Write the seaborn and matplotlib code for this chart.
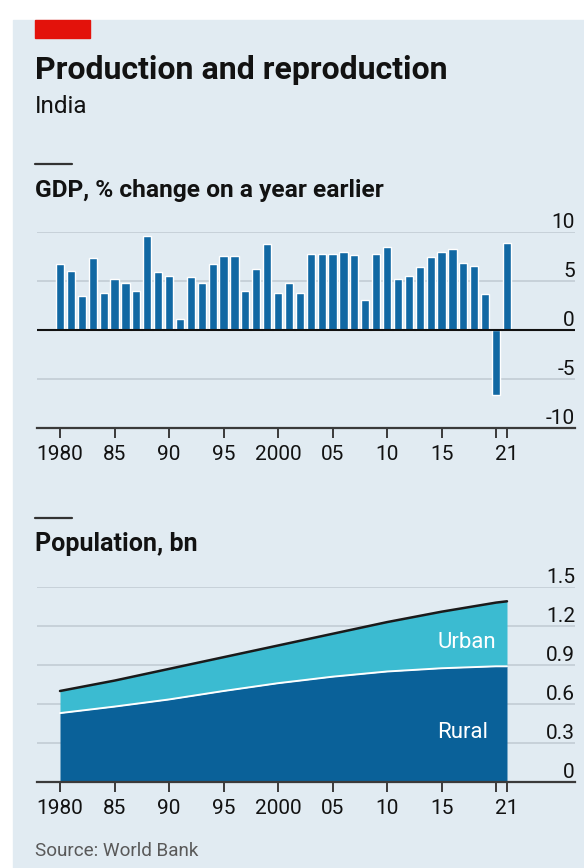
import pandas as pd
import seaborn as sns
import matplotlib.pyplot as plt
from matplotlib import font_manager
from matplotlib.patches import Rectangle
from matplotlib.lines import Line2D

# GDP growth, % change on a year earlier
years = list(range(1980, 2022))
gdp_growth = [6.7, 6.0, 3.5, 7.3, 3.8, 5.2, 4.8, 4.0, 9.6, 5.9,
              5.5, 1.1, 5.4, 4.8, 6.7, 7.6, 7.6, 4.0, 6.2, 8.8,
              3.8, 4.8, 3.8, 7.8, 7.8, 7.8, 8.0, 7.7, 3.1, 7.8,
              8.5, 5.2, 5.5, 6.4, 7.4, 8.0, 8.3, 6.8, 6.5, 3.7,
              -6.6, 8.9]

# Population, bn
pop_years = [1980, 1985, 1990, 1995, 2000, 2005, 2010, 2015, 2020, 2021]
rural_bn = [0.53, 0.58, 0.635, 0.70, 0.76, 0.81, 0.85, 0.875, 0.89, 0.89]
urban_bn = [0.17, 0.20, 0.235, 0.26, 0.29, 0.33, 0.38, 0.435, 0.49, 0.50]

tick_years = [1980, 1985, 1990, 1995, 2000, 2005, 2010, 2015, 2020, 2021]
tick_labels = ["1980", "85", "90", "95", "2000", "05", "10", "15", "", "21"]
gdp_ticks = [10, 5, 0, -5, -10]
gdp_tick_labels = ["10", "5", "0", "-5", "-10"]
pop_ticks = [0, 0.3, 0.6, 0.9, 1.2, 1.5]
pop_tick_labels = ["0", "0.3", "0.6", "0.9", "1.2", "1.5"]

BG = "#e1ebf2"
BAR = "#1168a3"
RURAL = "#0a6199"
URBAN = "#3bbbd1"
GRID = "#c2ccd4"
INK = "#121212"

sns.set_theme(style="white")
installed = {f.name for f in font_manager.fontManager.ttflist}
main_font = "Liberation Sans Narrow" if "Liberation Sans Narrow" in installed else "Roboto"
plt.rcParams["font.family"] = [main_font, "DejaVu Sans"]

W, H = 584, 868
fig = plt.figure(figsize=(W / 100, H / 100), dpi=100, facecolor="white")


def fx(x):
    return x / W


def fy(y):
    return 1 - y / H


fig.patches.append(Rectangle((fx(13), 0), 1 - fx(13), fy(20), transform=fig.transFigure,
                             color=BG, zorder=-10))
fig.patches.append(Rectangle((fx(35), fy(38)), fx(90) - fx(35), fy(20) - fy(38),
                             transform=fig.transFigure, color="#e3120b", zorder=-5))

renderer = fig.canvas.get_renderer()


def fit_text(x, y, s, width_px, **kw):
    t = fig.text(fx(x), fy(y), s, va="baseline", ha="left", **kw)
    w = t.get_window_extent(renderer).width
    t.set_fontsize(t.get_fontsize() * width_px / w)
    return t


fit_text(35, 79, "Production and reproduction", 412, fontsize=22, fontweight="bold", color=INK)
fit_text(35, 113, "India", 53, fontsize=17, color=INK)
fit_text(35, 197, "GDP, % change on a year earlier", 349, fontsize=16, fontweight="bold", color=INK)
fit_text(35, 551, "Population, bn", 162, fontsize=16, fontweight="bold", color=INK)
fit_text(35, 856, "Source: World Bank", 165, fontsize=14, color="#595959")
for ly in (164, 518):
    fig.add_artist(Line2D([fx(35), fx(72)], [fy(ly), fy(ly)], transform=fig.transFigure,
                          color="#333333", lw=1.6))

xlim = (1980 - 23 / 10.9, 2021 + 68 / 10.9)


def style_axis(ax, ticks, labels, ymin):
    ax.set_facecolor("none")
    for side in ("left", "right", "top"):
        ax.spines[side].set_visible(False)
    ax.spines["bottom"].set_color("#3a3a3a")
    ax.spines["bottom"].set_linewidth(1.6)
    ax.set_xlim(*xlim)
    ax.set_xticks(tick_years)
    ax.set_xticklabels(tick_labels)
    ax.tick_params(axis="x", direction="out", length=7, width=1.4, color="#3a3a3a",
                   pad=5, labelsize=15, labelcolor=INK, bottom=True)
    ax.set_yticks([])
    ax.set_xlabel("")
    ax.set_ylabel("")
    for v, lab in zip(ticks, labels):
        if v != ymin:
            ax.axhline(v, color=GRID, lw=1.2, zorder=0)
        ax.text(1.0, v, lab, transform=ax.get_yaxis_transform(), ha="right", va="bottom",
                fontsize=15, color=INK)


# GDP bar chart
ax1 = fig.add_axes([fx(37), fy(428), fx(575) - fx(37), fy(232) - fy(428)])
gdp = pd.DataFrame({"year": years, "growth": gdp_growth})
sns.barplot(data=gdp, x="year", y="growth", native_scale=True, color=BAR, saturation=1,
            width=0.75, errorbar=None, ax=ax1, zorder=2)
ax1.set_ylim(-10, 10)
style_axis(ax1, gdp_ticks, gdp_tick_labels, -10)
ax1.axhline(0, color="#111111", lw=1.5, zorder=3)

# Population area chart
ax2 = fig.add_axes([fx(37), fy(782), fx(575) - fx(37), fy(587) - fy(782)])
pop = pd.DataFrame({"year": pop_years, "rural": rural_bn, "urban": urban_bn})
pop["total"] = pop["rural"] + pop["urban"]
ax2.fill_between(pop["year"], 0, pop["rural"], color=RURAL, lw=0, zorder=2)
ax2.fill_between(pop["year"], pop["rural"], pop["total"], color=URBAN, lw=0, zorder=2)
sns.lineplot(data=pop, x="year", y="rural", color="white", lw=1.4, ax=ax2, zorder=3)
sns.lineplot(data=pop, x="year", y="total", color="#1a1a1a", lw=1.8, ax=ax2, zorder=3)
ax2.set_ylim(0, 1.5)
style_axis(ax2, pop_ticks, pop_tick_labels, 0)
ax2.text(2014.6, 1.07, "Urban", color="white", fontsize=16, va="center", ha="left", zorder=4)
ax2.text(2014.6, 0.38, "Rural", color="white", fontsize=16, va="center", ha="left", zorder=4)

fig.savefig("out.png", dpi=100, facecolor="white")
